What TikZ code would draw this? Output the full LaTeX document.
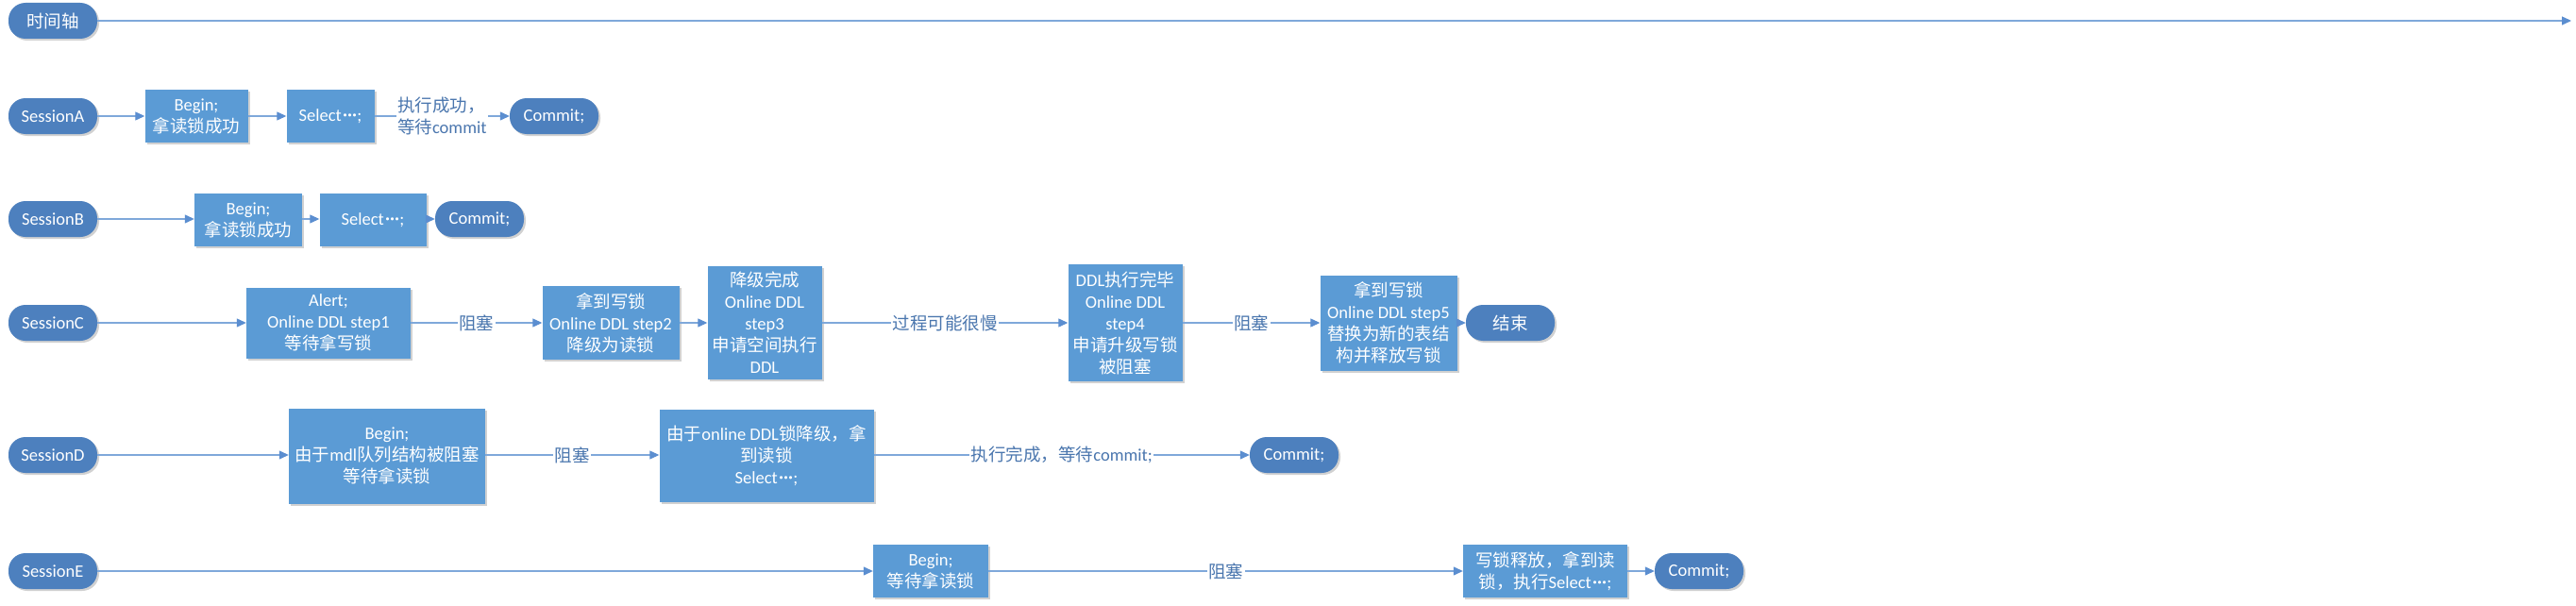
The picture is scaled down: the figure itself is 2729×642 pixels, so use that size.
\documentclass[tikz,border=0pt]{standalone}
\usepackage{fontspec}
\setmainfont{Carlito}
\newfontfamily\cjkfont{Noto Sans CJK SC}
\newcommand\zhtxt[1]{{\cjkfont #1}}
\newcommand\mdots{\kern1pt{\fontsize{22}{23}\selectfont·\kern-0.5pt·\kern-0.5pt·}}
\usetikzlibrary{arrows.meta,shadows}
\definecolor{boxblue}{HTML}{5B9BD5}
\definecolor{pillblue}{HTML}{4D80BE}
\definecolor{linecol}{HTML}{7FA8DA}
\definecolor{tipcol}{HTML}{5B8ED0}
\definecolor{lblcol}{HTML}{4A76AE}
\tikzset{
  basefont/.style={font=\fontsize{18.5}{23}\selectfont},
  stepbox/.style={basefont, rectangle, fill=boxblue, text=white, align=center, inner sep=0pt,
    drop shadow={shadow xshift=2pt, shadow yshift=-2pt, opacity=0.18, fill=black}},
  pill/.style={basefont, rectangle, rounded corners=18pt, fill=pillblue, text=white, align=center,
    minimum width=94pt, minimum height=38pt, inner sep=0pt,
    drop shadow={shadow xshift=2pt, shadow yshift=-2pt, opacity=0.18, fill=black}},
  conn/.style={draw=linecol, line width=1.1pt, -{Triangle[length=10pt,width=9pt,color=tipcol]}},
  lbl/.style={basefont, fill=white, text=lblcol, inner sep=1.5pt, align=left}
}
\begin{document}
\begin{tikzpicture}[x=1pt,y=-1pt]
\useasboundingbox[fill=white] (0,0) rectangle (2729,642);

% time axis
\node[pill] (axis) at (56,22) {\zhtxt{时间轴}};
\coordinate (axisend) at (2724,22);
\draw[conn] (axis) -- (axisend);

% Session A
\node[pill] (sA) at (56,123) {SessionA};
\node[stepbox, minimum width=109pt, minimum height=56pt] (A1) at (208,123) {Begin;\\\zhtxt{拿读锁成功}};
\node[stepbox, minimum width=93pt, minimum height=56pt] (A2) at (350,123) {Select\mdots;};
\node[pill] (cA) at (587,123) {Commit;};
\draw[conn] (sA) -- (A1);
\draw[conn] (A1) -- (A2);
\draw[conn] (A2) -- node[lbl] {\zhtxt{执行成功，}\\\zhtxt{等待}commit} (cA);

% Session B
\node[pill] (sB) at (56,232) {SessionB};
\node[stepbox, minimum width=114pt, minimum height=56pt] (B1) at (263,233) {Begin;\\\zhtxt{拿读锁成功}};
\node[stepbox, minimum width=113pt, minimum height=56pt] (B2) at (395,233) {Select\mdots;};
\node[pill] (cB) at (508,232) {Commit;};
\draw[conn] (sB) -- (sB -| B1.west);
\draw[conn] (B1.east |- cB) -- (B2.west |- cB);
\draw[conn] (B2.east |- cB) -- (cB);

% Session C
\node[pill] (sC) at (56,342) {SessionC};
\node[stepbox, minimum width=174pt, minimum height=75pt] (C1) at (348,342) {Alert;\\Online DDL step1\\\zhtxt{等待拿写锁}};
\node[stepbox, minimum width=145pt, minimum height=78pt] (C2) at (647,342) {\zhtxt{拿到写锁}\\Online DDL step2\\\zhtxt{降级为读锁}};
\node[stepbox, minimum width=121pt, minimum height=120pt] (C3) at (810,342) {\zhtxt{降级完成}\\Online DDL\\step3\\\zhtxt{申请空间执行}\\DDL};
\node[stepbox, minimum width=121pt, minimum height=124pt] (C4) at (1192,342) {DDL\zhtxt{执行完毕}\\Online DDL\\step4\\\zhtxt{申请升级写锁}\\\zhtxt{被阻塞}};
\node[stepbox, minimum width=145pt, minimum height=101pt] (C5) at (1471,342) {\zhtxt{拿到写锁}\\Online DDL step5\\\zhtxt{替换为新的表结}\\\zhtxt{构并释放写锁}};
\node[pill] (endC) at (1600,342) {\zhtxt{结束}};
\draw[conn] (sC) -- (C1);
\draw[conn] (C1) -- node[lbl] {\zhtxt{阻塞}} (C2);
\draw[conn] (C2) -- (C3);
\draw[conn] (C3) -- node[lbl] {\zhtxt{过程可能很慢}} (C4);
\draw[conn] (C4) -- node[lbl] {\zhtxt{阻塞}} (C5);
\draw[conn] (C5) -- (endC);

% Session D
\node[pill] (sD) at (56,482) {SessionD};
\node[stepbox, minimum width=208pt, minimum height=101pt] (D1) at (410,483) {Begin;\\\zhtxt{由于}mdl\zhtxt{队列结构被阻塞}\\\zhtxt{等待拿读锁}};
\node[stepbox, minimum width=227pt, minimum height=98pt] (D2) at (812,483) {\zhtxt{由于}online DDL\zhtxt{锁降级，拿}\\\zhtxt{到读锁}\\Select\mdots;};
\node[pill] (cD) at (1371,482) {Commit;};
\draw[conn] (sD) -- (sD -| D1.west);
\draw[conn] (D1.east |- sD) -- node[lbl] {\zhtxt{阻塞}} (D2.west |- sD);
\draw[conn] (D2.east |- sD) -- node[lbl] {\zhtxt{执行完成，等待}commit;} (cD);

% Session E
\node[pill] (sE) at (56,605) {SessionE};
\node[stepbox, minimum width=122pt, minimum height=56pt] (E1) at (986,605) {Begin;\\\zhtxt{等待拿读锁}};
\node[stepbox, minimum width=174pt, minimum height=56pt] (E2) at (1637,605) {\zhtxt{写锁释放，拿到读}\\\zhtxt{锁，执行}Select\mdots;};
\node[pill] (cE) at (1800,605) {Commit;};
\draw[conn] (sE) -- (E1);
\draw[conn] (E1) -- node[lbl] {\zhtxt{阻塞}} (E2);
\draw[conn] (E2) -- (cE);
\end{tikzpicture}
\end{document}
